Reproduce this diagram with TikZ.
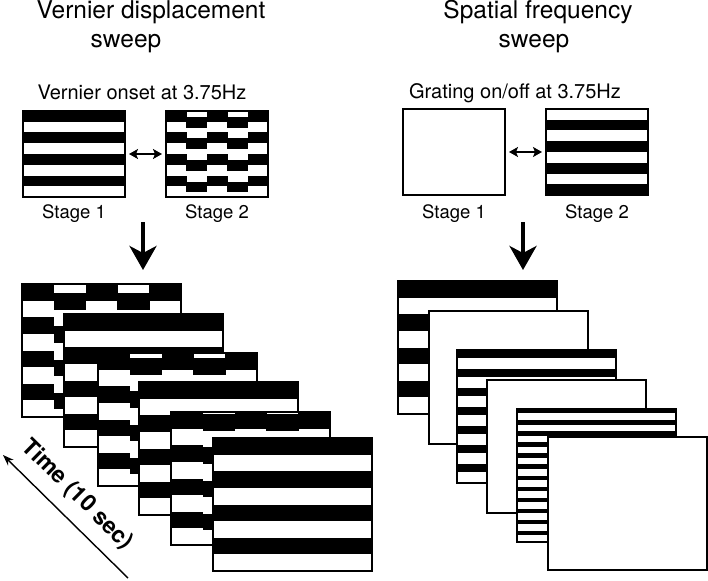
\documentclass[tikz,border=0pt]{standalone}
\usepackage{fontspec}
\setmainfont{TeX Gyre Heros}
\usetikzlibrary{arrows.meta,positioning}

% horizontal grating: width, height, stripes, phase, black share of a period (origin at the frame centre)
\newcommand{\plainbars}[5]{%
  \pgfmathsetmacro{\barh}{#2/#3}%
  \pgfmathsetmacro{\blackh}{2*#5*\barh}%
  \pgfmathtruncatemacro{\nbars}{#3/2-1}%
  \foreach \i in {0,...,\nbars}
    \fill[black] ({-#1/2},{-#2/2+(2*\i+#4)*\barh}) rectangle ++(#1,\blackh);
}
% vernier grating: width, height, stripes, displacement
\newcommand{\vernierbars}[4]{%
  \pgfmathsetmacro{\barh}{#2/#3}%
  \pgfmathsetmacro{\segw}{#1/5}%
  \pgfmathtruncatemacro{\nbars}{#3/2-1}%
  \foreach \j in {0,...,4}{
    \pgfmathsetmacro{\segdy}{mod(\j,2)*#4}
    \foreach \i in {0,...,\nbars}
      \fill[black] ({-#1/2+\j*\segw},{-#2/2+2*\i*\barh+\segdy}) rectangle ++({\segw+0.4},\barh);
  }
}

\tikzset{
  frame/.style={draw, line width=1.6pt, fill=white, inner sep=0pt, outer sep=0pt,
    anchor=north west, minimum width=159pt, minimum height=133pt},
  panel/.style={frame, minimum width=102pt, minimum height=86pt},
  bars/.style={path picture={#1}},
  ttl/.style={inner sep=0pt, anchor=base, font=\fontsize{24.5}{29}\selectfont},
  sub/.style={inner sep=0pt, anchor=base, font=\fontsize{20}{24}\selectfont},
  lbl/.style={inner sep=0pt, font=\fontsize{18.5}{22}\selectfont},
  dbl/.style={{Stealth[length=9pt,width=10pt,inset=2pt]}-{Stealth[length=9pt,width=10pt,inset=2pt]},
    line width=1.4pt, shorten <=4pt, shorten >=4pt},
  down/.style={-{Stealth[length=24pt,width=27pt,inset=7pt]}, line width=4pt},
}

\begin{document}
\begin{tikzpicture}[x=1pt,y=-1pt]
\useasboundingbox (0,0) rectangle (708,580);

% titles
\node[ttl] (vtitle) at (151,19) {Vernier displacement};
\node[ttl] (vsweep) at (126,48) {sweep};
\node[ttl] (gtitle) at (538,19) {Spatial frequency};
\node[ttl] (gsweep) at (534,48) {sweep};

\node[sub] (vonset) at (142,100) {Vernier onset at 3.75Hz};
\node[sub] (gonset) at (515,99) {Grating on/off at 3.75Hz};

% the two stages
\node[panel, bars={\plainbars{102}{86}{8}{0}{0.5}}] (vs1) at (23,111) {};
\node[panel, bars={\vernierbars{102}{86}{8}{6}}]    (vs2) at (166,111) {};
\node[panel]                                        (gs1) at (403,109) {};
\node[panel, bars={\plainbars{102}{86}{8}{1}{0.5}}] (gs2) at (546,109) {};

\node[lbl, below=7pt of vs1] (vs1txt) {Stage 1};
\node[lbl, below=7pt of vs2] (vs2txt) {Stage 2};
\node[lbl, below=9pt of gs1] (gs1txt) {Stage 1};
\node[lbl, below=9pt of gs2] (gs2txt) {Stage 2};

\draw[dbl] (vs1) -- (vs2);
\draw[dbl] (gs1) -- (gs2);

% vernier sweep
\node[frame, bars={\vernierbars{159}{133}{8}{9}}]    (v1) at (22,284) {};
\node[frame, bars={\plainbars{159}{133}{8}{0}{0.5}}] (v2) at (64,314) {};
\node[frame, bars={\vernierbars{159}{133}{8}{5}}]    (v3) at (98,353) {};
\node[frame, bars={\plainbars{159}{133}{8}{0}{0.5}}] (v4) at (139,382) {};
\node[frame, bars={\vernierbars{159}{133}{8}{2}}]    (v5) at (171,412) {};
\node[frame, bars={\plainbars{159}{133}{8}{0}{0.5}}] (v6) at (213,438) {};

% spatial frequency sweep
\node[frame, bars={\plainbars{159}{133}{8}{0}{0.5}}]   (g1) at (398,281) {};
\node[frame]                                           (g2) at (429,311) {};
\node[frame, bars={\plainbars{159}{133}{14}{0}{0.42}}] (g3) at (457,350) {};
\node[frame]                                           (g4) at (487,380) {};
\node[frame, bars={\plainbars{159}{133}{24}{0}{0.4}}]  (g5) at (517,409) {};
\node[frame]                                           (g6) at (548,437) {};

\coordinate (vdown) at (143,222);
\coordinate (gdown) at (523,222);
\draw[down, shorten >=14pt] (vdown) -- (vdown |- v1.north);
\draw[down, shorten >=11pt] (gdown) -- (gdown |- g1.north);

% time axis
\coordinate (tstart) at (128,578);
\coordinate (tend) at (3,455);
\draw[-{Stealth[length=11pt,width=8pt]}, line width=1.4pt] (tstart) -- (tend)
  node[pos=0.54, sloped, above=12pt, inner sep=0pt, font=\bfseries\fontsize{23}{27}\selectfont] (tlabel) {Time (10 sec)};

\end{tikzpicture}
\end{document}
